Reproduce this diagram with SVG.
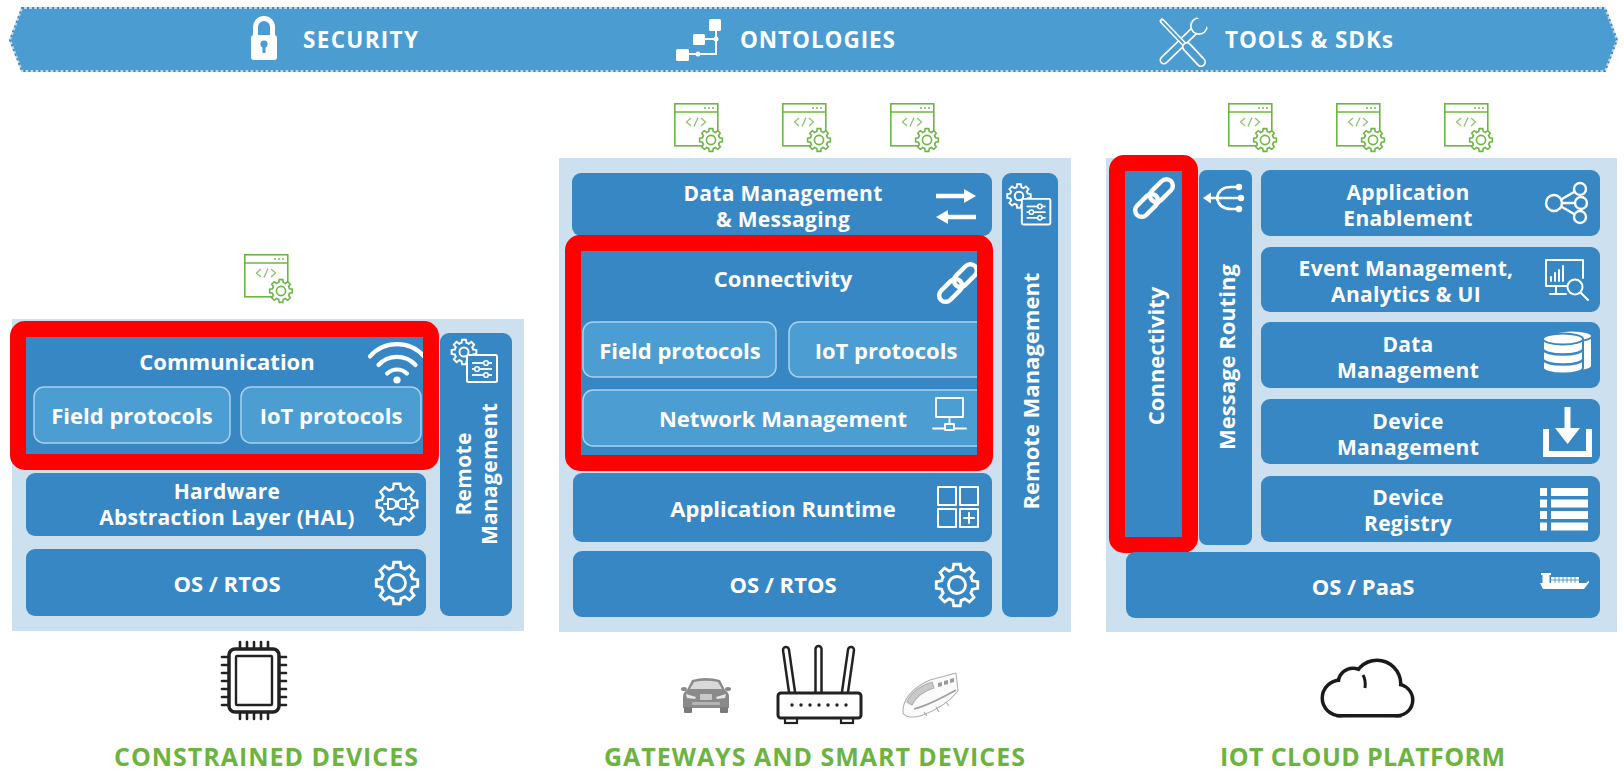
<svg xmlns="http://www.w3.org/2000/svg" width="1624" height="770" viewBox="0 0 1624 770">
<style>
  .panel{fill:#cce0ef}
  .box{fill:#3787c4}
  .sub{fill:#4c9dd1;stroke:#acd1ec;stroke-width:1.5}
  .hl{fill:none;stroke:#ff0000;stroke-width:16}
  .lbl{font-family:"Open Sans","Liberation Sans",sans-serif;font-weight:700;font-size:22px;fill:#fff;text-anchor:middle;dominant-baseline:central}
  .two{font-size:21px;letter-spacing:0.3px}
  .ban{font-family:"Open Sans","Liberation Sans",sans-serif;font-weight:700;font-size:22.5px;fill:#fff}
  .foot{font-family:"Open Sans","Liberation Sans",sans-serif;font-weight:700;font-size:25px;fill:#6db33f}
  .ln{fill:none;stroke:#fff;stroke-width:2.5;stroke-linecap:round;stroke-linejoin:round}
  .dk{fill:none;stroke:#222;stroke-width:3;stroke-linejoin:round;stroke-linecap:round}
  .cg{fill:none;stroke:#6cb643;stroke-width:1.6}
</style>
<defs>
  <!-- 8-tooth gear outline, outer radius 10 -->
  <path id="gear" d="M7.34,-1.97 L9.88,-1.56 L9.88,1.56 L7.34,1.97 A7.6,7.6 0 0 1 6.58,3.8 L8.09,5.88 L5.88,8.09 L3.8,6.58 A7.6,7.6 0 0 1 1.97,7.34 L1.56,9.88 L-1.56,9.88 L-1.97,7.34 A7.6,7.6 0 0 1 -3.8,6.58 L-5.88,8.09 L-8.09,5.88 L-6.58,3.8 A7.6,7.6 0 0 1 -7.34,1.97 L-9.88,1.56 L-9.88,-1.56 L-7.34,-1.97 A7.6,7.6 0 0 1 -6.58,-3.8 L-8.09,-5.88 L-5.88,-8.09 L-3.8,-6.58 A7.6,7.6 0 0 1 -1.97,-7.34 L-1.56,-9.88 L1.56,-9.88 L1.97,-7.34 A7.6,7.6 0 0 1 3.8,-6.58 L5.88,-8.09 L8.09,-5.88 L6.58,-3.8 A7.6,7.6 0 0 1 7.34,-1.97 Z"/>
  <!-- code window with gear (application / SDK) -->
  <g id="codeIcon">
    <rect class="cg" x="0.8" y="0.8" width="43" height="42"/>
    <line class="cg" x1="0.8" y1="9" x2="43.8" y2="9"/>
    <circle cx="31" cy="5" r="0.9" fill="#6cb643"/>
    <circle cx="35" cy="5" r="0.9" fill="#6cb643"/>
    <circle cx="39" cy="5" r="0.9" fill="#6cb643"/>
    <polyline points="17,15 12.5,19 17,23" fill="none" stroke="#8cc56a" stroke-width="1.3"/>
    <line x1="20" y1="23.5" x2="24" y2="14.5" stroke="#8cc56a" stroke-width="1.3"/>
    <polyline points="27,15 31.5,19 27,23" fill="none" stroke="#8cc56a" stroke-width="1.3"/>
    <use href="#gear" transform="translate(37,37) scale(1.15)" fill="#fff" stroke="#6cb643" stroke-width="1.4"/>
    <circle cx="37" cy="37" r="4.6" fill="none" stroke="#6cb643" stroke-width="1.6"/>
  </g>
  <!-- chain link -->
  <g id="link">
    <g transform="rotate(-45)">
      <rect x="-24" y="-6.5" width="27" height="13" rx="6.5" fill="none" stroke="#fff" stroke-width="4.5"/>
      <rect x="-3" y="-6.5" width="27" height="13" rx="6.5" fill="none" stroke="#fff" stroke-width="4.5"/>
    </g>
  </g>
  <!-- gear with settings sheet -->
  <g id="remoteIcon">
    <use href="#gear" transform="scale(1.25)" fill="#3787c4" stroke="#fff" stroke-width="1.6"/>
    <circle r="4.5" fill="none" stroke="#fff" stroke-width="2"/>
    <rect x="3" y="3" width="30" height="27" rx="1.5" fill="#3787c4" stroke="#fff" stroke-width="2"/>
    <line x1="8" y1="11" x2="28" y2="11" stroke="#fff" stroke-width="1.8"/>
    <line x1="8" y1="17" x2="28" y2="17" stroke="#fff" stroke-width="1.8"/>
    <line x1="8" y1="23" x2="28" y2="23" stroke="#fff" stroke-width="1.8"/>
    <circle cx="22" cy="11" r="2.3" fill="#3787c4" stroke="#fff" stroke-width="1.6"/>
    <circle cx="13" cy="17" r="2.3" fill="#3787c4" stroke="#fff" stroke-width="1.6"/>
    <circle cx="22" cy="23" r="2.3" fill="#3787c4" stroke="#fff" stroke-width="1.6"/>
  </g>
</defs>

<!-- cross-cutting banner -->
<g id="banner">
  <polygon points="22,8 1605,8 1617,40 1605,71 22,71 10,40" fill="#4b9cd0" stroke="#b9d8ee" stroke-width="2"/>
  <polygon points="22,8 1605,8 1617,40 1605,71 22,71 10,40" fill="none" stroke="#3f86bd" stroke-width="2" stroke-dasharray="2 3"/>
  <g id="security">
    <path d="M255.5,36 V27 A8.5,8.5 0 0 1 272.5,27 V36" fill="none" stroke="#fff" stroke-width="5"/>
    <rect x="251" y="35" width="26" height="25" rx="3" fill="#fff"/>
    <circle cx="264" cy="44" r="3.6" fill="#4b9cd0"/>
    <rect x="262.4" y="45" width="3.2" height="8" rx="1" fill="#4b9cd0"/>
    <text class="ban" x="303" y="48" textLength="115" lengthAdjust="spacing">SECURITY</text>
  </g>
  <g id="ontologies">
    <path d="M704,39 H716 M716,30 V54 H688" stroke="#fff" stroke-width="2" fill="none"/>
    <rect x="709" y="19" width="12" height="12" rx="1.5" fill="#fff"/>
    <rect x="693" y="34" width="12" height="11" rx="1.5" fill="#fff"/>
    <rect x="676" y="49" width="13" height="12" rx="1.5" fill="#fff"/>
    <circle cx="716" cy="39" r="2.5" fill="#fff"/>
    <circle cx="698" cy="54" r="2.5" fill="#fff"/>
    <text class="ban" x="740" y="48" textLength="155" lengthAdjust="spacing">ONTOLOGIES</text>
  </g>
  <g id="tools">
    <line x1="1164" y1="60" x2="1194" y2="31" stroke="#fff" stroke-width="9" stroke-linecap="round"/>
    <line x1="1164" y1="60" x2="1194" y2="31" stroke="#4b9cd0" stroke-width="5.6" stroke-linecap="round"/>
    <circle cx="1199" cy="26" r="9" fill="#fff"/>
    <circle cx="1199" cy="26" r="7.3" fill="#4b9cd0"/>
    <path d="M1196,16 L1209,16 L1209,29 Z" fill="#4b9cd0"/>
    <line x1="1162" y1="21" x2="1185" y2="45" stroke="#fff" stroke-width="5" stroke-linecap="round"/>
    <line x1="1162" y1="21" x2="1185" y2="45" stroke="#4b9cd0" stroke-width="2"/>
    <line x1="1187" y1="47" x2="1201" y2="62" stroke="#fff" stroke-width="10" stroke-linecap="round"/>
    <line x1="1187" y1="47" x2="1201" y2="62" stroke="#4b9cd0" stroke-width="6.5" stroke-linecap="round"/>
    <text class="ban" x="1225" y="48" textLength="168" lengthAdjust="spacing">TOOLS &amp; SDKs</text>
  </g>
</g>

<!-- Constrained devices stack -->
<g id="constrained">
  <rect class="panel" x="12" y="319" width="512" height="312"/>
  <use href="#codeIcon" x="244" y="254"/>
  <g id="communication">
    <rect class="box" x="26" y="333" width="397" height="130"/>
    <text class="lbl" x="227" y="361">Communication</text>
    <g class="ln" style="stroke-width:4.2">
      <path d="M387.1,373.6 A14,14 0 0 1 406.9,373.6"/>
      <path d="M378.5,365.0 A25,25 0 0 1 415.5,365.0"/>
      <path d="M370.0,356.4 A36,36 0 0 1 424.0,356.4"/>
    </g>
    <circle cx="397" cy="380" r="3.6" fill="#fff"/>
    <g id="field-protocols-1">
      <rect class="sub" x="34" y="387" width="196" height="56" rx="10"/>
      <text class="lbl" x="132" y="415">Field protocols</text>
    </g>
    <g id="iot-protocols-1">
      <rect class="sub" x="241" y="387" width="180" height="56" rx="10"/>
      <text class="lbl" x="331" y="415">IoT protocols</text>
    </g>
  </g>
  <rect class="hl" x="18" y="329" width="413" height="133" rx="7"/>
  <g id="hal">
    <rect class="box" x="26" y="473" width="400" height="63" rx="9"/>
    <text class="lbl two" x="227" y="491">Hardware</text>
    <text class="lbl two" x="227" y="517">Abstraction Layer (HAL)</text>
    <use href="#gear" transform="translate(397,504) scale(2.05)" fill="none" stroke="#fff" stroke-width="1.2"/>
    <g class="ln" style="stroke-width:2">
      <path d="M-13,0 H-9 M-9,-5 H-6 A5,5 0 0 1 -6,5 H-9 Z M13,0 H9 M9,-5 H6 A5,5 0 0 0 6,5 H9 Z M-1,-2.5 H1 M-1,2.5 H1" transform="translate(397,504)"/>
    </g>
  </g>
  <g id="os-rtos-1">
    <rect class="box" x="26" y="549" width="400" height="67" rx="9"/>
    <text class="lbl" x="227" y="583">OS / RTOS</text>
    <use href="#gear" transform="translate(397,583) scale(2.1)" fill="none" stroke="#fff" stroke-width="1.35"/>
    <circle cx="397" cy="583" r="8.5" fill="none" stroke="#fff" stroke-width="2.8"/>
  </g>
  <g id="remote-management-1">
    <rect class="box" x="440" y="333" width="72" height="283" rx="9"/>
    <use href="#remoteIcon" x="464" y="352"/>
    <text class="lbl two" transform="translate(463,474) rotate(-90)" x="0" y="0">Remote</text>
    <text class="lbl two" transform="translate(489,474) rotate(-90)" x="0" y="0">Management</text>
  </g>
</g>

<!-- Gateways and smart devices stack -->
<g id="gateways">
  <rect class="panel" x="559" y="158" width="512" height="474"/>
  <use href="#codeIcon" x="674" y="103"/>
  <use href="#codeIcon" x="782" y="103"/>
  <use href="#codeIcon" x="890" y="103"/>
  <g id="data-messaging">
    <rect class="box" x="572" y="173" width="420" height="63" rx="9"/>
    <text class="lbl two" x="783" y="193">Data Management</text>
    <text class="lbl two" x="783" y="219">&amp; Messaging</text>
    <line x1="936" y1="196" x2="966" y2="196" stroke="#fff" stroke-width="4.5"/>
    <polygon points="964,189 976,196 964,203" fill="#fff"/>
    <line x1="976" y1="217" x2="946" y2="217" stroke="#fff" stroke-width="4.5"/>
    <polygon points="948,210 936,217 948,224" fill="#fff"/>
  </g>
  <g id="connectivity-1">
    <rect class="box" x="573" y="243" width="412" height="220"/>
    <text class="lbl" x="783" y="278">Connectivity</text>
    <use href="#link" x="958" y="283"/>
    <g id="field-protocols-2">
      <rect class="sub" x="583" y="322" width="193" height="55" rx="10"/>
      <text class="lbl" x="680" y="350">Field protocols</text>
    </g>
    <g id="iot-protocols-2">
      <rect class="sub" x="789" y="322" width="200" height="55" rx="10"/>
      <text class="lbl" x="886" y="350">IoT protocols</text>
    </g>
    <g id="network-management">
      <rect class="sub" x="583" y="390" width="405" height="56" rx="10"/>
      <text class="lbl" x="783" y="418">Network Management</text>
      <g class="ln" style="stroke-width:1.8">
        <rect x="936" y="398" width="27" height="19"/>
        <path d="M949.5,417 V423 M933,428.5 H945 M954,428.5 H966"/>
        <rect x="945" y="424" width="9" height="6"/>
      </g>
    </g>
  </g>
  <rect class="hl" x="573" y="243" width="412" height="220" rx="7"/>
  <g id="app-runtime">
    <rect class="box" x="573" y="473" width="419" height="69" rx="9"/>
    <text class="lbl" x="783" y="508">Application Runtime</text>
    <g class="ln" style="stroke-width:2">
      <rect x="938" y="487" width="18" height="18"/>
      <rect x="960" y="487" width="18" height="18"/>
      <rect x="938" y="509" width="18" height="18"/>
      <rect x="960" y="509" width="18" height="18"/>
      <path d="M969,513 V523 M964,518 H974"/>
    </g>
  </g>
  <g id="os-rtos-2">
    <rect class="box" x="573" y="551" width="419" height="66" rx="9"/>
    <text class="lbl" x="783" y="584">OS / RTOS</text>
    <use href="#gear" transform="translate(957,585) scale(2.1)" fill="none" stroke="#fff" stroke-width="1.35"/>
    <circle cx="957" cy="585" r="8.5" fill="none" stroke="#fff" stroke-width="2.8"/>
  </g>
  <g id="remote-management-2">
    <rect class="box" x="1002" y="173" width="56" height="444" rx="9"/>
    <use href="#remoteIcon" transform="translate(1019,196) scale(0.95)"/>
    <text class="lbl" transform="translate(1030,391) rotate(-90)" x="0" y="0">Remote Management</text>
  </g>
</g>

<!-- IoT cloud platform stack -->
<g id="cloud-platform">
  <rect class="panel" x="1106" y="158" width="511" height="474"/>
  <use href="#codeIcon" x="1228" y="103"/>
  <use href="#codeIcon" x="1336" y="103"/>
  <use href="#codeIcon" x="1444" y="103"/>
  <g id="connectivity-2">
    <rect class="box" x="1117" y="163" width="73" height="382"/>
    <use href="#link" x="1154" y="198"/>
    <text class="lbl" transform="translate(1155,356) rotate(-90)" x="0" y="0">Connectivity</text>
  </g>
  <rect class="hl" x="1117" y="163" width="73" height="382" rx="7"/>
  <g id="message-routing">
    <rect class="box" x="1199" y="170" width="53" height="375" rx="8"/>
    <g class="ln" style="stroke-width:2.6">
      <path d="M1209,198 H1238"/>
      <path d="M1236,187 H1231 Q1219,187 1217,198 Q1219,209 1231,209 H1236"/>
    </g>
    <polygon points="1203,198 1211,192.5 1211,203.5" fill="#fff"/>
    <circle cx="1239" cy="187" r="3.2" fill="#fff"/>
    <circle cx="1241" cy="198" r="3.2" fill="#fff"/>
    <circle cx="1239" cy="209" r="3.2" fill="#fff"/>
    <text class="lbl" transform="translate(1226,357) rotate(-90)" x="0" y="0">Message Routing</text>
  </g>
  <g id="app-enablement">
    <rect class="box" x="1261" y="170" width="339" height="66" rx="9"/>
    <text class="lbl two" x="1408" y="192">Application</text>
    <text class="lbl two" x="1408" y="218">Enablement</text>
    <g class="ln" style="stroke-width:2.4">
      <path d="M1562,199 L1574,192 M1562,203 H1573 M1562,207 L1574,214"/>
      <circle cx="1554" cy="203" r="8"/>
      <circle cx="1580" cy="189" r="6"/>
      <circle cx="1581" cy="203" r="6"/>
      <circle cx="1580" cy="217" r="6"/>
    </g>
  </g>
  <g id="event-management">
    <rect class="box" x="1261" y="247" width="339" height="65" rx="9"/>
    <text class="lbl two" x="1406" y="268">Event Management,</text>
    <text class="lbl two" x="1406" y="294">Analytics &amp; UI</text>
    <g class="ln" style="stroke-width:2">
      <path d="M1567,286 H1546 V260 H1583 V278"/>
      <path d="M1556,286 V293 M1550,294 H1566"/>
      <path d="M1551,281 V277 M1555,281 V273 M1559,281 V270 M1563,281 V266"/>
      <circle cx="1575" cy="287" r="7.5"/>
      <path d="M1580.5,292.5 L1588,300"/>
    </g>
  </g>
  <g id="data-management">
    <rect class="box" x="1261" y="322" width="339" height="66" rx="9"/>
    <text class="lbl two" x="1408" y="344">Data</text>
    <text class="lbl two" x="1408" y="370">Management</text>
    <g stroke="#3787c4" stroke-width="2">
      <path d="M1552,336 V366 A20,5.5 0 0 0 1592,366 V336 Z" fill="#fff"/>
      <ellipse cx="1572" cy="336" rx="20" ry="5.5" fill="#fff"/>
      <path d="M1543,339 V368 A20,5.5 0 0 0 1583,368 V339 Z" fill="#fff"/>
      <ellipse cx="1563" cy="339" rx="20" ry="5.5" fill="#fff"/>
      <path d="M1543,349 A20,5.5 0 0 0 1583,349 M1543,359 A20,5.5 0 0 0 1583,359" fill="none" stroke-width="2.6"/>
    </g>
  </g>
  <g id="device-management">
    <rect class="box" x="1261" y="399" width="339" height="65" rx="9"/>
    <text class="lbl two" x="1408" y="421">Device</text>
    <text class="lbl two" x="1408" y="447">Management</text>
    <path d="M1543,429 H1549 V451 H1586 V429 H1592 V457 H1543 Z" fill="#fff"/>
    <rect x="1564.5" y="407" width="6" height="24" fill="#fff"/>
    <polygon points="1555,428 1580,428 1567.5,444" fill="#fff"/>
  </g>
  <g id="device-registry">
    <rect class="box" x="1261" y="476" width="339" height="66" rx="9"/>
    <text class="lbl two" x="1408" y="497">Device</text>
    <text class="lbl two" x="1408" y="523">Registry</text>
    <g fill="#fff">
      <rect x="1540" y="488" width="7" height="8"/><rect x="1551" y="488" width="37" height="8"/>
      <rect x="1540" y="499.5" width="7" height="8"/><rect x="1551" y="499.5" width="37" height="8"/>
      <rect x="1540" y="511" width="7" height="8"/><rect x="1551" y="511" width="37" height="8"/>
      <rect x="1540" y="522.5" width="7" height="8"/><rect x="1551" y="522.5" width="37" height="8"/>
    </g>
  </g>
  <g id="os-paas">
    <rect class="box" x="1126" y="552" width="474" height="66" rx="9"/>
    <text class="lbl" x="1363" y="586">OS / PaaS</text>
    <g fill="#fff">
      <rect x="1541" y="573" width="10" height="2"/>
      <rect x="1542.5" y="575" width="7" height="8"/>
      <rect x="1551" y="577" width="28" height="6"/>
      <path d="M1540,583 H1586 L1589,580.5 V582.5 L1584,589 H1543 Z"/>
    </g>
    <path d="M1555,577 V583 M1559,577 V583 M1563,577 V583 M1567,577 V583 M1571,577 V583 M1575,577 V583 M1551,580 H1579" stroke="#3787c4" stroke-width="0.8"/>
  </g>
</g>

<!-- device pictograms -->
<g id="chip">
  <g class="dk" style="stroke-width:2.6">
    <path d="M240,642 V649 M247,642 V649 M254,642 V649 M261,642 V649 M268,642 V649"/>
    <path d="M240,712 V719 M247,712 V719 M254,712 V719 M261,712 V719 M268,712 V719"/>
    <path d="M222,657 H229 M222,665 H229 M222,673 H229 M222,681 H229 M222,689 H229 M222,697 H229 M222,705 H229"/>
    <path d="M279,657 H286 M279,665 H286 M279,673 H286 M279,681 H286 M279,689 H286 M279,697 H286 M279,705 H286"/>
  </g>
  <rect class="dk" x="229" y="649" width="50" height="63" rx="6" style="stroke-width:3.5"/>
  <rect class="dk" x="236" y="656" width="36" height="49" rx="1" style="stroke-width:2.4"/>
</g>
<g id="car">
  <ellipse cx="684" cy="689" rx="3" ry="2" fill="#8a8a8a"/>
  <ellipse cx="728" cy="689" rx="3" ry="2" fill="#8a8a8a"/>
  <path d="M692,680 Q706,676 720,680 L725,690 Q729,692 729,697 V708 H683 V697 Q683,692 687,690 Z" fill="#8a8a8a"/>
  <path d="M694,682 Q706,679.5 718,682 L722,689 H690 Z" fill="#d9d9d9"/>
  <path d="M686,694 L696,697 L695,699 L687,698 Z M726,694 L716,697 L717,699 L725,698 Z" fill="#e6e6e6"/>
  <rect x="700" y="694" width="12" height="6" rx="1" fill="#c8c8c8"/>
  <rect x="692" y="702" width="28" height="3" rx="1" fill="#b5b5b5"/>
  <rect x="684" y="707" width="8" height="6" rx="1" fill="#7a7a7a"/>
  <rect x="720" y="707" width="8" height="6" rx="1" fill="#7a7a7a"/>
</g>
<g id="router">
  <line x1="792" y1="692" x2="786" y2="650" stroke="#222" stroke-width="8.5" stroke-linecap="round"/>
  <line x1="792" y1="692" x2="786" y2="650" stroke="#fff" stroke-width="3.5" stroke-linecap="round"/>
  <line x1="818.5" y1="692" x2="818.5" y2="649" stroke="#222" stroke-width="8.5" stroke-linecap="round"/>
  <line x1="818.5" y1="692" x2="818.5" y2="649" stroke="#fff" stroke-width="3.5" stroke-linecap="round"/>
  <line x1="845" y1="692" x2="851" y2="650" stroke="#222" stroke-width="8.5" stroke-linecap="round"/>
  <line x1="845" y1="692" x2="851" y2="650" stroke="#fff" stroke-width="3.5" stroke-linecap="round"/>
  <rect x="785" y="717" width="12" height="6" fill="#fff" stroke="#222" stroke-width="2.2"/>
  <rect x="841" y="717" width="12" height="6" fill="#fff" stroke="#222" stroke-width="2.2"/>
  <rect x="778" y="693" width="83" height="25" rx="3" fill="#fff" stroke="#222" stroke-width="3"/>
  <g fill="#222">
    <circle cx="792" cy="705" r="1.7"/><circle cx="801" cy="705" r="1.7"/><circle cx="810" cy="705" r="1.7"/>
    <circle cx="819" cy="705" r="1.7"/><circle cx="828" cy="705" r="1.7"/><circle cx="837" cy="705" r="1.7"/>
    <circle cx="846" cy="705" r="1.7"/>
  </g>
</g>
<g id="train" fill="none" stroke="#b0b0b0" stroke-width="1.1" stroke-linejoin="round">
  <path d="M903,713 C902,700 912,688 930,680 L956,673 L958,691 C950,701 938,710 920,716 C912,718 905,717 903,713 Z" fill="#fbfbfb"/>
  <path d="M907,702 C911,692 920,686 932,682 L934,688 C924,691 916,697 912,705 Z" fill="#c9c9c9"/>
  <path d="M938,683 L942,682 L942,686 L938,687 Z M944,681 L948,680 L948,684 L944,685 Z M950,679 L954,678 L954,682 L950,683 Z" fill="#9a9a9a" stroke="none"/>
  <path d="M914,709 C926,706 940,699 956,690" stroke="#a0a0a0" stroke-width="1.8"/>
  <path d="M924,712 L927,716 M936,707 L939,712 M946,702 L949,706" stroke="#a8a8a8"/>
</g>
<g id="cloud">
  <g stroke="#1a1a1a" stroke-width="7" fill="#1a1a1a">
    <rect x="1340" y="690" width="58" height="24"/>
    <circle cx="1340" cy="698" r="16"/>
    <circle cx="1353" cy="683" r="13"/>
    <circle cx="1377" cy="684" r="22"/>
    <circle cx="1397" cy="700" r="14"/>
  </g>
  <g fill="#fff">
    <rect x="1340" y="690" width="58" height="24"/>
    <circle cx="1340" cy="698" r="16"/>
    <circle cx="1353" cy="683" r="13"/>
    <circle cx="1377" cy="684" r="22"/>
    <circle cx="1397" cy="700" r="14"/>
  </g>
  <path d="M1363,675 Q1366,680 1365,688" fill="none" stroke="#1a1a1a" stroke-width="3"/>
</g>

<!-- category captions -->
<g id="captions">
  <text class="foot" x="114" y="766" textLength="304" lengthAdjust="spacing">CONSTRAINED DEVICES</text>
  <text class="foot" x="604" y="766" textLength="421" lengthAdjust="spacing">GATEWAYS AND SMART DEVICES</text>
  <text class="foot" x="1220" y="766" textLength="285" lengthAdjust="spacing">IOT CLOUD PLATFORM</text>
</g>

<g id="connectors"></g>
</svg>
